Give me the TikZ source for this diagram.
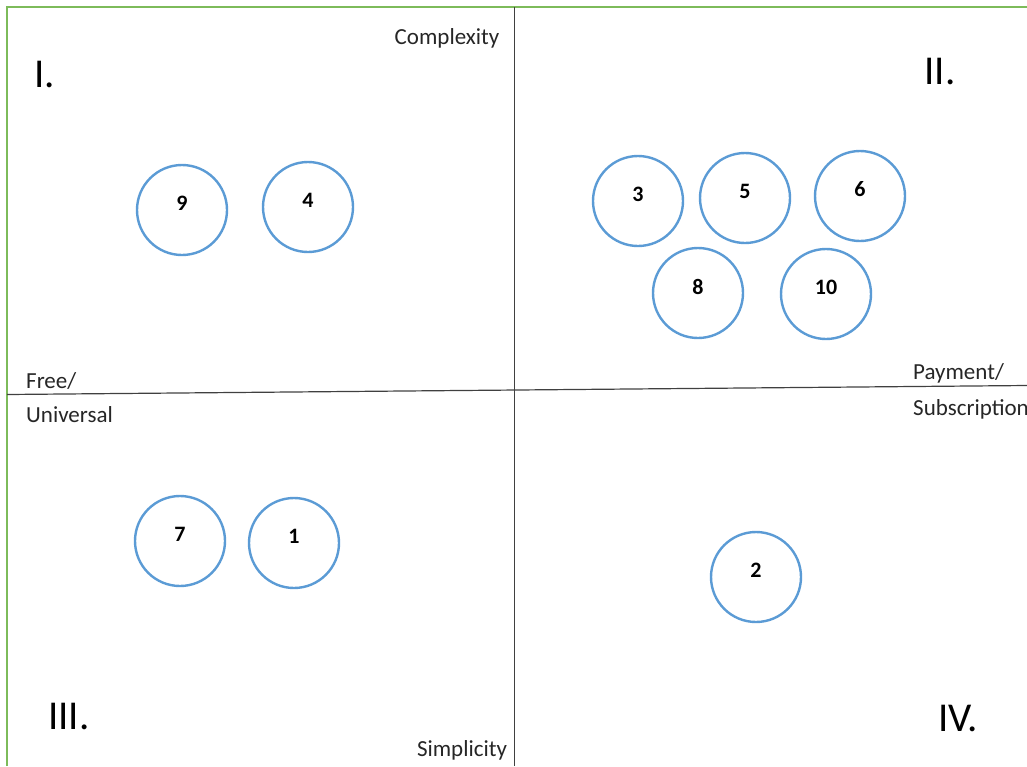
\documentclass[tikz,border=0pt]{standalone}
\usepackage{fontspec}
\setmainfont{Carlito}
\begin{document}
\begin{tikzpicture}[x=1pt,y=-1pt,
  bubble/.style={draw=bubbleblue,line width=2.4pt,circle,minimum size=90pt,inner sep=0pt},
  num/.style={font=\fontsize{22}{26}\selectfont\bfseries,inner sep=0pt},
  axislbl/.style={font=\fontsize{23}{27}\selectfont,inner sep=0pt,text=black!85},
  quad/.style={font=\fontsize{41}{49}\selectfont,inner sep=0pt}]
\definecolor{bubbleblue}{HTML}{5B9BD5}
\definecolor{framegreen}{HTML}{7DBB5A}
\useasboundingbox (0,0) rectangle (1027,766);
% frame
\coordinate (gtl) at (7,7);
\coordinate (gbl) at (7,766);
\coordinate (gtr) at (1027,7);
\draw[framegreen,line width=2.4pt] (gbl) -- (gtl) -- (gtr);
% axes
\coordinate (vt) at (514.5,7);
\coordinate (vb) at (514.5,766);
\coordinate (hl) at (7,394.5);
\coordinate (hr) at (1027,385.5);
\draw[black!75,line width=1.2pt] (vt) -- (vb);
\draw[black!75,line width=1.2pt] (hl) -- (hr);
% labels
\node[axislbl] (lcx) at (447,38) {Complexity};
\node[axislbl] (lsp) at (462,750) {Simplicity};
\node[axislbl,anchor=west] (lfr) at (26,381) {Free/};
\node[axislbl,anchor=west] (lun) at (26,415) {Universal};
\node[axislbl,anchor=west] (lpa) at (913,373) {Payment/};
\node[axislbl,anchor=west] (lsu) at (913,409) {Subscription};
\node[quad] (q1) at (45,75) {I.};
\node[quad] (q2) at (940,72) {II.};
\node[quad] (q3) at (69,716) {III.};
\node[quad] (q4) at (958,718) {IV.};
% bubbles
\foreach \n/\x/\y in {9/182/210,4/308/207,3/638/201,5/745/198,6/860/196,8/698/293,10/826/294,7/180/541,1/294/543,2/756/577}{
  \node[bubble] (c\n) at (\x,\y) {};
  \node[num] (t\n) at ([yshift=6.5pt]c\n.center) {\n};
}
\end{tikzpicture}
\end{document}
